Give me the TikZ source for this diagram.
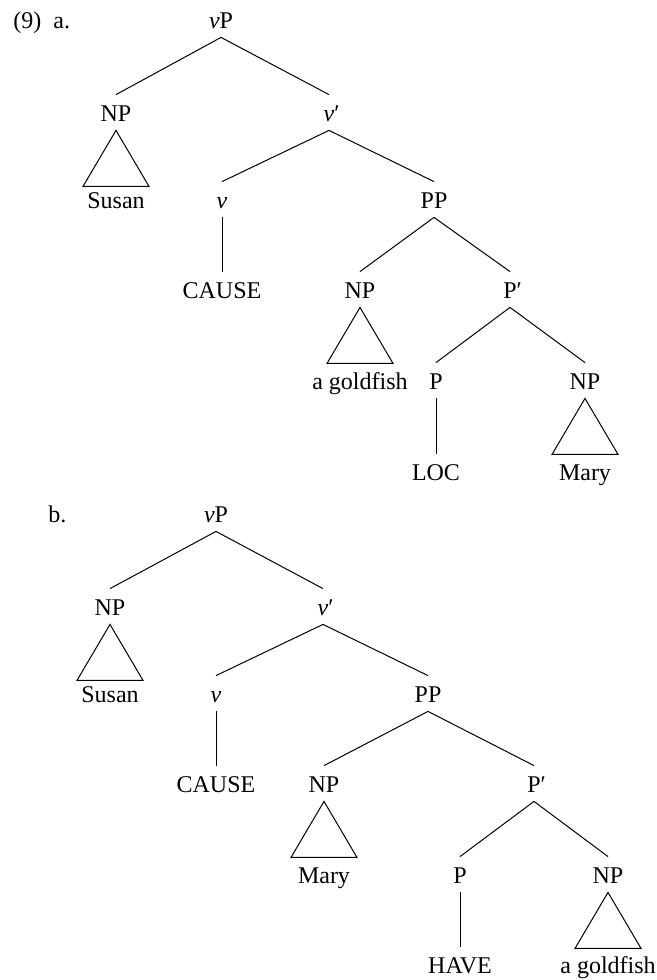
\documentclass[tikz,border=0pt]{standalone}
\usepackage{fontspec}
\setmainfont{Liberation Serif}
\usetikzlibrary{calc}
\newcommand{\vv}{\textit{v}}
\tikzset{
  lab/.style={font=\fontsize{12}{14}\selectfont, inner xsep=0pt, inner ysep=4.5pt,
              text height=8.5pt, text depth=0pt, anchor=base},
  num/.style={font=\fontsize{12}{14}\selectfont, inner sep=0pt, anchor=base west},
  branch/.style={line width=0.5pt},
}
\newcommand{\tri}[1]{\draw[branch, line join=miter] (#1.south) -- ($(#1.south)+(-33,56)$) -- ($(#1.south)+(33,56)$) -- cycle;}
\begin{document}
\begin{tikzpicture}[x=0.5pt, y=-0.5pt]
\useasboundingbox (0,0) rectangle (657,980);

% ---------- (9a) ----------
\node[num] (ex) at (13,28) {(9)};
\node[num] (ea) at (53,28) {a.};
\node[lab] (a-vP)   at (221,28)  {\vv P};
\node[lab] (a-NP1)  at (116,121) {NP};
\node[lab] (a-vbar) at (329,121) {\vv\rlap{′}};
\node[lab] (a-Sus)  at (116,208) {Susan};
\node[lab] (a-v)    at (222,208) {\vv};
\node[lab] (a-PP)   at (434,208) {PP};
\node[lab] (a-CAU)  at (222,298) {CAUSE};
\node[lab] (a-NP2)  at (360,298) {NP};
\node[lab] (a-Pbar) at (510,298) {P\rlap{′}};
\node[lab] (a-gold) at (360,389) {a goldfish};
\node[lab] (a-P)    at (436,389) {P};
\node[lab] (a-NP3)  at (585,389) {NP};
\node[lab] (a-LOC)  at (436,480) {LOC};
\node[lab] (a-Mary) at (585,480) {Mary};

\draw[branch] (a-vP.south) -- (a-NP1.north);
\draw[branch] (a-vP.south) -- (a-vbar.north);
\draw[branch] (a-vbar.south) -- (a-v.north);
\draw[branch] (a-vbar.south) -- (a-PP.north);
\draw[branch] (a-v.south) -- (a-CAU.north);
\draw[branch] (a-PP.south) -- (a-NP2.north);
\draw[branch] (a-PP.south) -- (a-Pbar.north);
\draw[branch] (a-Pbar.south) -- (a-P.north);
\draw[branch] (a-Pbar.south) -- (a-NP3.north);
\draw[branch] (a-P.south) -- (a-LOC.north);
\tri{a-NP1}
\tri{a-NP2}
\tri{a-NP3}

% ---------- (9b) ----------
\node[num] (eb) at (48,522) {b.};
\node[lab] (b-vP)   at (216,522) {\vv P};
\node[lab] (b-NP1)  at (110,615) {NP};
\node[lab] (b-vbar) at (323,615) {\vv\rlap{′}};
\node[lab] (b-Sus)  at (110,702) {Susan};
\node[lab] (b-v)    at (216,702) {\vv};
\node[lab] (b-PP)   at (428,702) {PP};
\node[lab] (b-CAU)  at (216,792) {CAUSE};
\node[lab] (b-NP2)  at (324,792) {NP};
\node[lab] (b-Pbar) at (534,792) {P\rlap{′}};
\node[lab] (b-Mary) at (324,883) {Mary};
\node[lab] (b-P)    at (460,883) {P};
\node[lab] (b-NP3)  at (608,883) {NP};
\node[lab] (b-HAVE) at (460,973) {HAVE};
\node[lab] (b-gold) at (608,973) {a goldfish};

\draw[branch] (b-vP.south) -- (b-NP1.north);
\draw[branch] (b-vP.south) -- (b-vbar.north);
\draw[branch] (b-vbar.south) -- (b-v.north);
\draw[branch] (b-vbar.south) -- (b-PP.north);
\draw[branch] (b-v.south) -- (b-CAU.north);
\draw[branch] (b-PP.south) -- (b-NP2.north);
\draw[branch] (b-PP.south) -- (b-Pbar.north);
\draw[branch] (b-Pbar.south) -- (b-P.north);
\draw[branch] (b-Pbar.south) -- (b-NP3.north);
\draw[branch] (b-P.south) -- (b-HAVE.north);
\tri{b-NP1}
\tri{b-NP2}
\tri{b-NP3}
\end{tikzpicture}
\end{document}
